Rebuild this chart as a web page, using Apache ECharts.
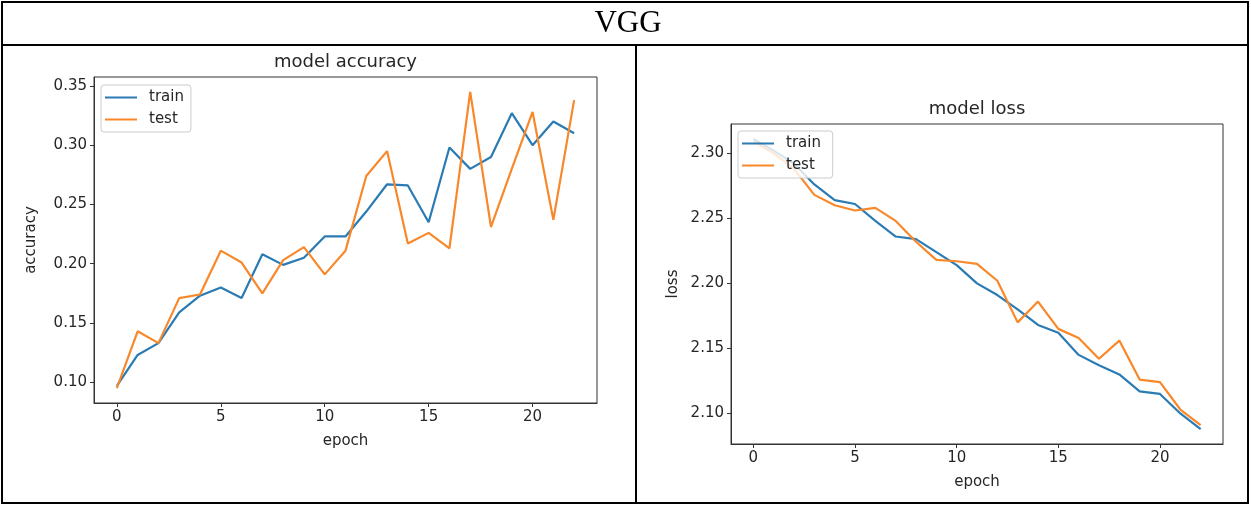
<!DOCTYPE html>
<html>
<head>
<meta charset="utf-8">
<script src="https://cdn.jsdelivr.net/npm/echarts@6/dist/echarts.min.js"></script>
<style>
html,body{margin:0;padding:0;background:#fff;}
#c{width:1251px;height:506px;}
</style>
</head>
<body>
<div id="c"></div>
<script>
const epochs = [0,1,2,3,4,5,6,7,8,9,10,11,12,13,14,15,16,17,18,19,20,21,22];
const accTrain = [0.097,0.123,0.133,0.159,0.173,0.180,0.171,0.208,0.199,0.205,0.223,0.223,0.244,0.267,0.266,0.235,0.298,0.280,0.290,0.327,0.300,0.320,0.310];
const accTest  = [0.095,0.143,0.133,0.171,0.174,0.211,0.201,0.175,0.203,0.214,0.191,0.211,0.274,0.295,0.217,0.226,0.213,0.345,0.231,0.280,0.328,0.237,0.338];
const lossTrain = [2.311,2.302,2.292,2.276,2.264,2.261,2.248,2.236,2.234,2.224,2.214,2.200,2.191,2.180,2.168,2.162,2.145,2.137,2.130,2.117,2.115,2.100,2.088];
const lossTest  = [2.309,2.300,2.288,2.268,2.260,2.256,2.258,2.248,2.232,2.218,2.217,2.215,2.202,2.170,2.186,2.165,2.158,2.142,2.156,2.126,2.124,2.103,2.091];
const xTicks = [0,5,10,15,20];
const accTicks = [0.10,0.15,0.20,0.25,0.30,0.35];
const lossTicks = [2.10,2.15,2.20,2.25,2.30];
const seriesNames = ['train','test'];
const pageTitle = 'VGG';
const chartTitles = ['model accuracy','model loss'];
const yNames = ['accuracy','loss'];
const xName = 'epoch';

const BLUE = '#2a7bb4', ORANGE = '#f8882a';
const FONT = 'DejaVu Sans';
const TXT = '#262626';
const FS = 15;

function pairs(vals){ return epochs.map((e,i)=>[e, vals[i]]); }

function xAxis(gi){
  return {
    type:'value', gridIndex:gi, min:-1.1, max:23.1,
    name:xName, nameLocation:'middle', nameGap:31,
    nameTextStyle:{fontFamily:FONT,fontSize:FS,color:TXT},
    axisLine:{show:true,onZero:false,lineStyle:{color:'#333',width:1}},
    axisTick:{show:true,inside:false,length:4,lineStyle:{color:'#333'},customValues:xTicks},
    axisLabel:{fontFamily:FONT,fontSize:FS,color:TXT,margin:7,customValues:xTicks},
    splitLine:{show:false}
  };
}
function yAxis(gi,min,max,ticks,name,gap){
  return {
    type:'value', gridIndex:gi, min:min, max:max,
    name:name, nameLocation:'middle', nameGap:gap, nameRotate:90,
    nameTextStyle:{fontFamily:FONT,fontSize:FS,color:TXT},
    axisLine:{show:true,onZero:false,lineStyle:{color:'#333',width:1}},
    axisTick:{show:true,inside:false,length:4,lineStyle:{color:'#333'},customValues:ticks},
    axisLabel:{fontFamily:FONT,fontSize:FS,color:TXT,margin:7,customValues:ticks,
      formatter:(v)=>v.toFixed(2)},
    splitLine:{show:false}
  };
}
function legend(left,top,names){
  return {
    data:names.map((n)=>({name:n})),
    left:left, top:top, orient:'vertical',
    icon:'rect', itemWidth:32, itemHeight:2, itemGap:7,
    padding:[5,7,5,4],
    borderColor:'#cccccc', borderWidth:1, borderRadius:3,
    backgroundColor:'rgba(255,255,255,0.8)',
    textStyle:{fontFamily:FONT,fontSize:FS,color:TXT,padding:[0,0,0,7]},
    selectedMode:false
  };
}

const chart = echarts.init(document.getElementById('c'), null, {renderer:'canvas'});
chart.setOption({
  animation:false,
  backgroundColor:'#fff',
  grid:[
    {left:94, top:77, right:654, bottom:103, show:true, borderColor:'#333', borderWidth:1, backgroundColor:'transparent'},
    {left:731, top:124, right:28, bottom:62, show:true, borderColor:'#333', borderWidth:1, backgroundColor:'transparent'}
  ],
  xAxis:[xAxis(0), xAxis(1)],
  yAxis:[
    yAxis(0,0.0825,0.3575,accTicks,yNames[0],55),
    yAxis(1,2.0765,2.3225,lossTicks,yNames[1],50)
  ],
  series:[
    {name:seriesNames[0], type:'line', xAxisIndex:0, yAxisIndex:0, data:pairs(accTrain), showSymbol:false, symbol:'none', color:BLUE, lineStyle:{width:2.2,color:BLUE}},
    {name:seriesNames[1], type:'line', xAxisIndex:0, yAxisIndex:0, data:pairs(accTest), showSymbol:false, symbol:'none', color:ORANGE, lineStyle:{width:2.2,color:ORANGE}},
    {name:seriesNames[0]+' ', type:'line', xAxisIndex:1, yAxisIndex:1, data:pairs(lossTrain), showSymbol:false, symbol:'none', color:BLUE, lineStyle:{width:2.2,color:BLUE}},
    {name:seriesNames[1]+' ', type:'line', xAxisIndex:1, yAxisIndex:1, data:pairs(lossTest), showSymbol:false, symbol:'none', color:ORANGE, lineStyle:{width:2.2,color:ORANGE}}
  ],
  graphic:[
    {type:'rect', shape:{x:2,y:2,width:1246,height:501}, style:{fill:'none',stroke:'#000',lineWidth:2}, z:100},
    {type:'line', shape:{x1:2,y1:45,x2:1248,y2:45}, style:{stroke:'#000',lineWidth:2}, z:100},
    {type:'line', shape:{x1:636,y1:45,x2:636,y2:503}, style:{stroke:'#000',lineWidth:2}, z:100},
    {type:'text', style:{text:pageTitle, x:628, y:24, textAlign:'center', textVerticalAlign:'middle', font:'31px "Liberation Serif"', fill:'#000'}, z:100},
    {type:'text', style:{text:chartTitles[0], x:345.5, y:62, textAlign:'center', textVerticalAlign:'middle', font:'18px "DejaVu Sans"', fill:TXT}, z:100},
    {type:'text', style:{text:chartTitles[1], x:977, y:109, textAlign:'center', textVerticalAlign:'middle', font:'18px "DejaVu Sans"', fill:TXT}, z:100}
  ]
});
chart.setOption({
  legend:[
    legend(101,85,[seriesNames[0],seriesNames[1]]),
    legend(738,131,[seriesNames[0]+' ',seriesNames[1]+' '])
  ]
});
</script>
</body>
</html>
